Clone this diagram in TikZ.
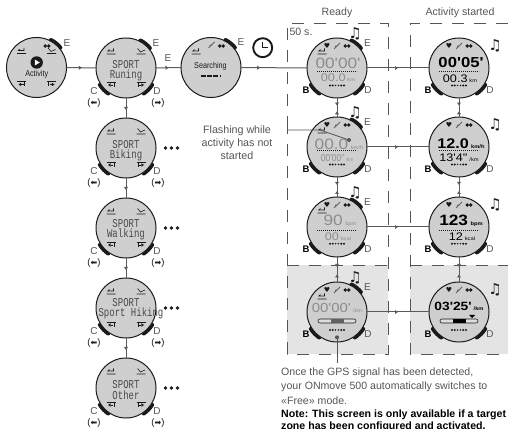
\documentclass[tikz,border=0pt]{standalone}
\usepackage{fontspec}
\setmainfont{Liberation Sans}
\newfontfamily\lcdm[FakeStretch=0.75]{Liberation Mono}
\newfontfamily\lcdn[FakeStretch=0.85]{Liberation Sans}
\newfontfamily\lcdw[FakeStretch=1.15]{Liberation Sans}
\newfontfamily\sym{DejaVu Sans}
\usetikzlibrary{arrows.meta,decorations.markings,calc}
\definecolor{lab}{HTML}{555555}
\definecolor{facec}{HTML}{CFCFCF}
\definecolor{zonefill}{HTML}{E4E4E4}
\definecolor{dim}{HTML}{8C8C8C}
\definecolor{wire}{HTML}{5A5A5A}
\definecolor{ink}{HTML}{1A1A1A}
\newcommand\unt{\fontsize{5}{5}\selectfont}
\tikzset{
  x=1pt,y=1pt,
  wface/.style={circle,draw=ink,fill=facec,line width=1pt,minimum size=60pt,inner sep=0pt,outer sep=0pt},
  btn/.style={line width=4.2pt,draw=ink,line cap=round},
  wirel/.style={draw=wire,line width=1pt},
  tipat/.style={decoration={markings,mark=at position #1 with {\arrow{Latex[length=3pt,width=4.5pt]}}},postaction={decorate}},
  tiptwo/.style={decoration={markings,mark=at position .4 with {\arrow{Latex[length=3pt,width=4.5pt]}},mark=at position .7 with {\arrowreversed{Latex[length=3pt,width=4.5pt]}}},postaction={decorate}},
  frame/.style={draw=lab,line width=.9pt,dash pattern=on 12pt off 10pt},
  lbl/.style={text=lab,font=\fontsize{10}{12}\selectfont,inner sep=0pt},
  headt/.style={text=lab,font=\fontsize{10.6}{12}\selectfont,inner sep=0pt},
  blbl/.style={text=black,font=\fontsize{9.5}{12}\selectfont\bfseries,inner sep=0pt},
  sportt/.style={text=ink!80,font=\fontsize{12}{12}\lcdm\selectfont,inner sep=0pt,text height=8pt,text depth=1pt},
  bigd/.style={inner sep=0pt,font=\fontsize{15}{15}\lcdw\selectfont},
  smld/.style={inner sep=0pt,font=\fontsize{11}{11}\lcdw\selectfont},
  notet/.style={inner sep=0pt,text=ink,font=\fontsize{15}{15}\sym\bfseries\selectfont},
  longt/.style={text=lab,inner sep=0pt,anchor=west,font=\fontsize{10.6}{13}\selectfont},
  midt/.style={text=lab,inner sep=0pt,font=\fontsize{10.7}{13}\selectfont}
}
% buttons first so that the face lies above them
\newcommand\wbtn[3]{\draw[btn] ([shift={(#3-11:31pt)}]#1pt,#2pt) arc[start angle=#3-11,end angle=#3+11,radius=31pt];}
\newcommand\wfc[4]{%
  \foreach \a in {#4}{\wbtn{#2}{#3}{\a}}
  \node[wface] (#1) at (#2,#3) {};}
% small menu icons, placed from the watch centre
\newcommand\icback[2]{\draw[line width=.6pt,draw=ink] (#1-4.5,#2-3) -- (#1+4.5,#2-3) (#1-1.5,#2+1.5) -- (#1-3.2,#2) -- (#1+2.5,#2) -- (#1+2.5,#2+2.5);}
\newcommand\iccheck[2]{\draw[line width=.6pt,draw=ink] (#1-4.5,#2-3) -- (#1+4.5,#2-3) (#1-3.5,#2+2.5) -- (#1-.5,#2-1) -- (#1+4,#2+1);}
\newcommand\icleft[2]{\draw[line width=.6pt,draw=ink] (#1-4.5,#2+3) -- (#1+4.5,#2+3) (#1+3,#2+3) -- (#1+3,#2-2);\fill[ink] (#1-3,#2) -- (#1-.3,#2+1.8) -- (#1-.3,#2-1.8) -- cycle;\draw[line width=.8pt,draw=ink] (#1-.3,#2)--(#1+2,#2);}
\newcommand\icright[2]{\draw[line width=.6pt,draw=ink] (#1-4.5,#2+3) -- (#1+4.5,#2+3) (#1-3,#2+3) -- (#1-3,#2-2);\fill[ink] (#1+3,#2) -- (#1+.3,#2+1.8) -- (#1+.3,#2-1.8) -- cycle;\draw[line width=.8pt,draw=ink] (#1+.3,#2)--(#1-2,#2);}
\newcommand\menuicons[2]{\icback{#1-15}{#2+17}\iccheck{#1+15}{#2+17}\icleft{#1-15}{#2-17}\icright{#1+15}{#2-17}}
\newcommand\goggle[2]{\fill[ink] (#1-1.8,#2) circle[radius=1.9] (#1+1.8,#2) circle[radius=1.9];}
\newcommand\runner[2]{\draw[line width=.9pt,draw=dim!70!black] (#1-3,#2-3) -- (#1+3,#2+3) (#1-2,#2-.5)--(#1+1,#2+.5);}
\newcommand\heart[2]{\node[inner sep=0pt,text=ink,font=\fontsize{7}{7}\sym\selectfont] at (#1,#2) {♥};}
\newcommand\topicons[2]{\heart{#1-10}{#2+22}\runner{#1}{#2+22}\goggle{#1+10}{#2+22}}
\newcommand\dotline[2]{\draw[line width=.7pt,draw=ink,dash pattern=on .8pt off 1.2pt] (#1-20,#2-3.5) -- (#1+20,#2-3.5);}
\newcommand\kbd[2]{\fill[ink] \foreach \d/\s in {-7/1,-4.2/1,-1.4/.6,1.4/.6,4.2/1,7/1}{(#1+\d,#2) circle[radius=.6*\s+.5]};}
\newcommand\arr[3]{\node[inner sep=0pt,text=ink,font=\fontsize{9.5}{10}\selectfont] at (#1,#2) {({\sym\fontsize{8}{8}\selectfont #3})};}
\newcommand\cd[2]{\node[lbl] at (#1-32,#2-23) {C};\node[lbl] at (#1+31,#2-23) {D};
  \arr{#1-32}{#2-35}{⬅}\arr{#1+32}{#2-35}{➡}}
\newcommand\threedots[2]{\fill[ink] (#1+39.5,#2) circle[radius=1.9] (#1+45.5,#2) circle[radius=1.9] (#1+51.5,#2) circle[radius=1.9];}
\begin{document}
\begin{tikzpicture}
\useasboundingbox (0,0) rectangle (508,428);
\begin{scope}
\clip (0,0) rectangle (508,428);
% shaded target-zone area and dashed frames
\fill[zonefill] (287,163) rectangle (388,74);
\fill[zonefill] (410,163) rectangle (508,74);
\draw[frame] (287,300) -- (287,405) -- (388,405) -- (388,74) -- (287,74) -- (287,300);
\draw[frame] (287,163) -- (388,163);
\draw[frame] (508,405) -- (410,405) -- (410,74) -- (508,74);
\draw[frame] (410,163) -- (508,163);
% watches
\wfc{act}{36.5}{360.5}{51}
\wfc{run}{126}{360}{51,224,316}
\wfc{bik}{126}{280}{224,316}
\wfc{wal}{126}{200}{224,316}
\wfc{hik}{126}{120}{224,316}
\wfc{oth}{126}{40}{224,316}
\wfc{sea}{211}{360.5}{51}
\wfc{ra}{337}{360}{51,224,316}
\wfc{rb}{337}{281}{51,224,316}
\wfc{rc}{337}{201}{51,224,316}
\wfc{rd}{337}{116}{51,224,316}
\wfc{aa}{459}{360}{224,316}
\wfc{ab}{459}{281}{224,316}
\wfc{ac}{459}{201}{224,316}
\wfc{ad}{459}{116}{224,316}
% connectors
\draw[wirel,tipat=.52] (act) -- (run);
\draw[wirel,tipat=.5] (run) -- (sea);
\draw[wirel,tipat=.29] (sea) -- (ra);
\draw[wirel,tipat=.5] (ra) -- (aa);
\draw[wirel,tipat=.5] (rb) -- (ab);
\draw[wirel,tipat=.5] (rc) -- (ac);
\draw[wirel,tipat=.5] (rd) -- (ad);
\foreach \p/\q in {run/bik,bik/wal,wal/hik,hik/oth}{\draw[wirel,tipat=.6] (\p) -- (\q);}
\foreach \p/\q in {ra/rb,rb/rc,rc/rd,aa/ab,ab/ac,ac/ad}{\draw[wirel,tiptwo] (\p) -- (\q);}
% activity watch
\menuicons{36.5}{360.5}
\goggle{47}{382}
\fill[ink] (36.7,365.5) circle[radius=6.2];
\fill[white] (34.8,368.5) -- (34.8,362.5) -- (39.8,365.5) -- cycle;
\node[inner sep=0pt,text=ink,font=\fontsize{8.5}{9}\lcdn\selectfont] at (36.7,353.5) {Activity};
% sport watches
\foreach \yy/\t/\a/\b/\xx in {360/Runing/3/-7/126,280/Biking/3/-7/126,200/Walking/4/-6/126,120/Sport Hiking/5/-5/131,40/Other/3/-8/126}{
  \menuicons{126}{\yy}
  \node[sportt] at (126,\yy+\a) {SPORT};
  \node[sportt] at (\xx,\yy+\b) {\t};
}
\node[lbl] at (67,385) {E};
\node[lbl] at (156,385) {E};
\node[lbl] at (168,370) {E};
\cd{126}{360}
\cd{126}{280}
\cd{126}{200}
\cd{126}{120}
\cd{126}{40}
\threedots{126}{280}
\threedots{126}{200}
\threedots{126}{120}
\threedots{126}{40}
% searching
\icback{196}{377}
\runner{211.5}{383}
\goggle{221.5}{382}
\node[inner sep=0pt,text=ink,font=\fontsize{8.5}{9}\lcdn\selectfont] at (210.5,362) {Searching};
\draw[line width=1.4pt,draw=ink,dash pattern=on 4.5pt off 1.7pt] (201,352) -- (221,352);
\node[lbl] at (241,385.5) {E};
% clock
\draw[line width=1.9pt,draw=ink] (262.7,380.3) circle[radius=9.5];
\draw[line width=1.5pt,draw=ink] (262.7,386) -- (262.7,380.3) -- (268,380.3);
% headings
\node[headt] at (337,415) {Ready};
\node[headt] at (460,415) {Activity started};
\node[headt] at (301,396) {50 s.};
% frame rows: E, B, D and music
\foreach \cx in {337,459}{
  \foreach \cy in {360,281,201,116}{
    \node[blbl] at (\cx-31,\cy-22) {B};
    \node[lbl] at (\cx+31,\cy-22) {D};
    \topicons{\cx}{\cy}
  }
}
\foreach \cy in {360,281,201,116}{
  \node[lbl] at (367.5,\cy+25) {E};
  \node[notet] at (355,\cy+34) {♫};
  \node[notet] at (495,\cy+22) {♫};
}
% ready row 1
\icback{322}{377}
\node[bigd,text=dim] at (338,365) {00'00'};
\dotline{337}{360}
\node[smld,text=dim] at (338,350) {00.0\,{\unt km}};
\kbd{337}{342.5}
% active row 1
\node[bigd,text=black,font=\fontsize{14.5}{15}\lcdw\bfseries\selectfont] at (461,365.3) {00'05'};
\dotline{459}{360}
\node[smld,text=black] at (460,349) {00.3\,{\unt km}};
\kbd{459}{342.5}
% ready row 2
\icback{322}{298}
\node[bigd,text=dim] at (339,284) {00.0\,{\unt km/h}};
\dotline{337}{281}
\node[smld,text=dim,font=\fontsize{10}{10}\lcdn\selectfont] at (337,270) {00'00''\,{\unt /km}};
\kbd{337}{263.5}
\coordinate (fa) at (288,298);
\coordinate (fb) at (320,298);
\coordinate (fc) at (349,288);
\draw[draw=lab,line width=.8pt] (fa) -- (fb) -- (fc);
\fill[lab] (fc) circle[radius=2];
% active row 2
\node[bigd,text=black,font=\fontsize{14}{14}\lcdw\bfseries\selectfont] at (461,284) {12.0\,{\unt km/h}};
\dotline{459}{281}
\node[smld,text=black] at (459,270) {13'4''\,{\unt /km}};
\kbd{459}{263.5}
% ready row 3
\icback{322}{218}
\node[bigd,text=dim] at (340,207) {90\,{\unt bpm}};
\dotline{337}{201}
\node[smld,text=dim] at (338,191) {00\,{\unt kcal}};
\kbd{337}{184.3}
% active row 3
\node[bigd,text=black,font=\fontsize{15}{15}\lcdw\bfseries\selectfont] at (461,207) {123\,{\unt bpm}};
\dotline{459}{201}
\node[smld,text=black] at (462,191) {12\,{\unt kcal}};
\kbd{459}{184.3}
% ready row 4
\icback{322}{132}
\node[bigd,text=dim,font=\fontsize{13}{13}\lcdw\selectfont] at (337,119.5) {00'00'\,{\unt /km}};
\draw[draw=ink,line width=.6pt,fill=facec!70!white,rounded corners=2pt] (318,105) rectangle (356,109);
\fill[dim!70!black] (330.7,105.3) rectangle (344,108.7);
\kbd{337}{98}
\coordinate (ga) at (337,90.7);
\coordinate (gb) at (337,65);
\fill[lab] (ga) circle[radius=2];
\draw[draw=lab,line width=.8pt] (ga) -- (gb);
% active row 4
\node[bigd,text=black,font=\fontsize{12}{13}\lcdw\bfseries\selectfont] at (459,122) {03'25'\,{\unt /km}};
\draw[draw=ink,line width=.6pt,fill=facec!70!white,rounded corners=2pt] (440,105) rectangle (478,109);
\fill[black] (453,105.3) rectangle (466,108.7);
\fill[black] (469,113) -- (475,113) -- (472,110) -- cycle;
\kbd{459}{98}
% side note and bottom text
\node[midt,align=center] at (237,285) {Flashing while\\activity has not\\started};
\node[longt] at (281,55) {Once the GPS signal has been detected,};
\node[longt] at (281,41) {your ONmove 500 automatically switches to};
\node[longt] at (281,27.5) {«Free» mode.};
\node[longt,text=black,font=\fontsize{10.6}{13}\bfseries\selectfont] at (281,13) {Note: This screen is only available if a target};
\node[longt,text=black,font=\fontsize{10.6}{13}\bfseries\selectfont] at (281,1.5) {zone has been configured and activated.};
\end{scope}
\end{tikzpicture}
\end{document}
